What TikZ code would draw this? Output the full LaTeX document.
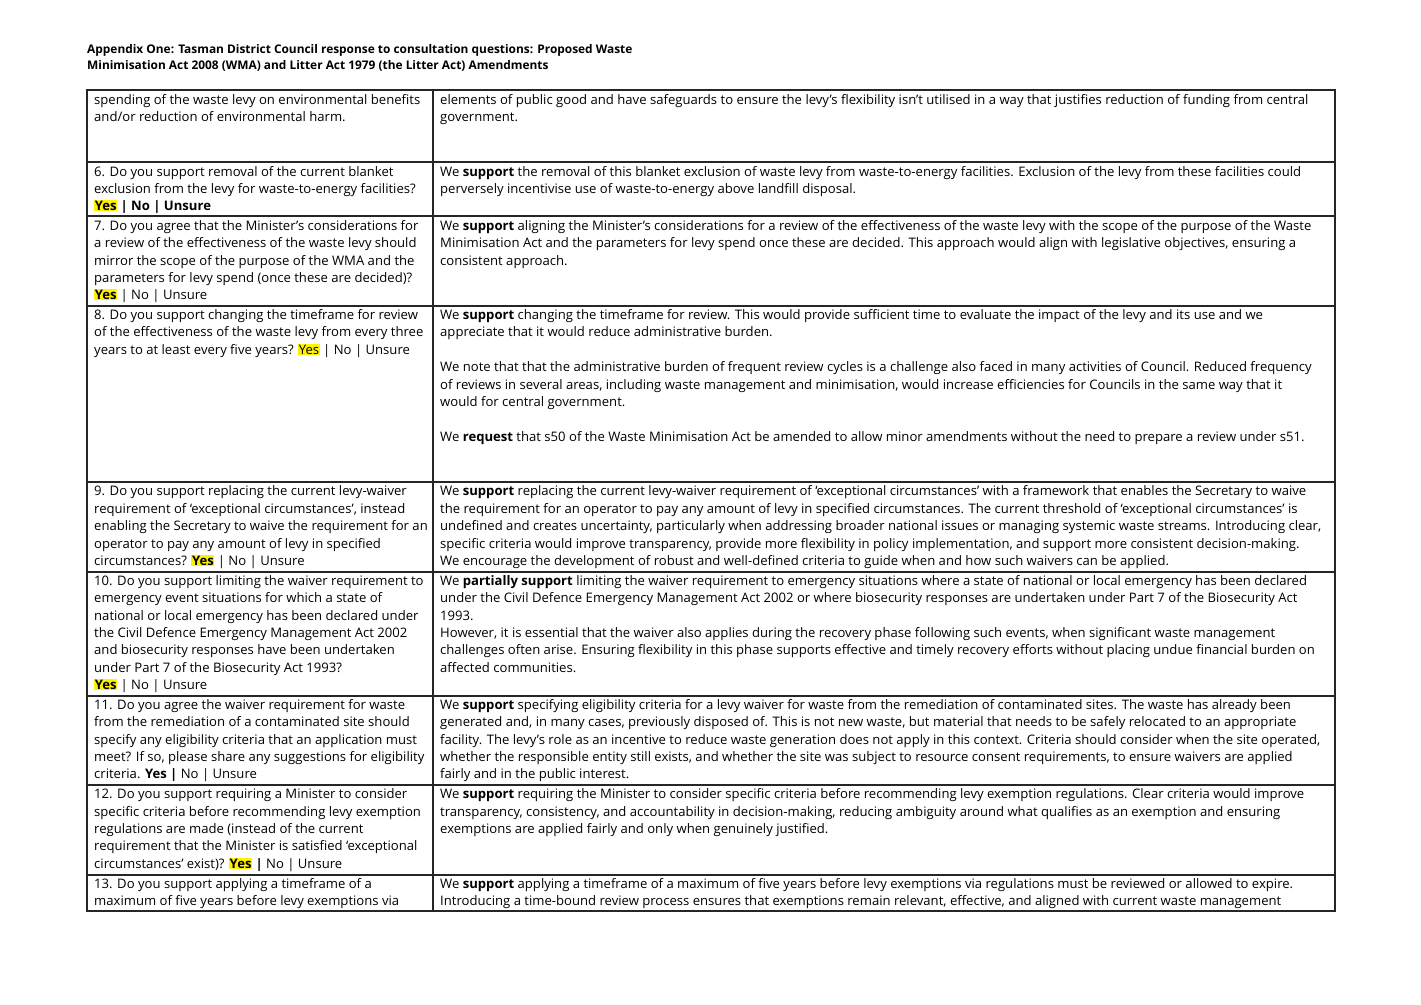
\documentclass[tikz,border=0pt]{standalone}
\usepackage{fontspec}
\setmainfont{Open Sans}
\usepackage{xcolor}
\definecolor{hy}{RGB}{255,242,0}
\newcommand{\hy}[1]{{\setlength{\fboxsep}{0.6pt}\colorbox{hy}{#1}}}
\tikzset{ln/.style={anchor=west,inner sep=0pt,font=\fontsize{13.1}{15}\selectfont},
 hd/.style={anchor=west,inner sep=0pt,font=\fontsize{11.9}{14}\selectfont\bfseries},
 rule/.style={line width=1.6pt,black!85}}
\newcommand{\Lt}[2]{\node[ln] at (94,#1) {\strut #2};}
\newcommand{\Rt}[2]{\node[ln] at (440,#1) {\strut #2};}
\begin{document}
\begin{tikzpicture}[x=1pt,y=-1pt]
\fill[white] (0,0) rectangle (1421,1004);
\useasboundingbox (0,0) rectangle (1421,1004);
\node[hd] (h1) at (87,50) {Appendix One: Tasman District Council response to consultation questions: Proposed Waste};
\node[hd] (h2) at (87,66) {Minimisation Act 2008 (WMA) and Litter Act 1979 (the Litter Act) Amendments};
\draw[rule] (87,90) rectangle (1335,911);
\draw[rule] (433,90) -- (433,911);
\foreach \y in {162,216,306,482,572,696,785,875} \draw[rule] (87,\y) -- (1335,\y);
% row 1
\Lt{101}{spending of the waste levy on environmental benefits}
\Lt{118}{and/or reduction of environmental harm.}
\Rt{101}{elements of public good and have safeguards to ensure the levy’s flexibility isn’t utilised in a way that justifies reduction of funding from central}
\Rt{118}{government.}
% row 6
\Lt{173}{6. Do you support removal of the current blanket}
\Lt{190}{exclusion from the levy for waste-to-energy facilities?}
\Lt{207}{\bfseries\hy{Yes} | No | Unsure}
\Rt{173}{We \textbf{support} the removal of this blanket exclusion of waste levy from waste-to-energy facilities. Exclusion of the levy from these facilities could}
\Rt{190}{perversely incentivise use of waste-to-energy above landfill disposal.}
% row 7
\Lt{227}{7. Do you agree that the Minister’s considerations for}
\Lt{244}{a review of the effectiveness of the waste levy should}
\Lt{262}{mirror the scope of the purpose of the WMA and the}
\Lt{279}{parameters for levy spend (once these are decided)?}
\Lt{296}{\textbf{\hy{Yes}} | No | Unsure}
\Rt{227}{We \textbf{support} aligning the Minister’s considerations for a review of the effectiveness of the waste levy with the scope of the purpose of the Waste}
\Rt{244}{Minimisation Act and the parameters for levy spend once these are decided. This approach would align with legislative objectives, ensuring a}
\Rt{262}{consistent approach.}
% row 8
\Lt{316}{8. Do you support changing the timeframe for review}
\Lt{333}{of the effectiveness of the waste levy from every three}
\Lt{351}{years to at least every five years? \hy{Yes} | No | Unsure}
\Rt{316}{We \textbf{support} changing the timeframe for review. This would provide sufficient time to evaluate the impact of the levy and its use and we}
\Rt{333}{appreciate that it would reduce administrative burden.}
\Rt{368}{We note that that the administrative burden of frequent review cycles is a challenge also faced in many activities of Council. Reduced frequency}
\Rt{386}{of reviews in several areas, including waste management and minimisation, would increase efficiencies for Councils in the same way that it}
\Rt{403}{would for central government.}
\Rt{438}{We \textbf{request} that s50 of the Waste Minimisation Act be amended to allow minor amendments without the need to prepare a review under s51.}
% row 9
\Lt{492}{9. Do you support replacing the current levy-waiver}
\Lt{510}{requirement of ‘exceptional circumstances’, instead}
\Lt{527}{enabling the Secretary to waive the requirement for an}
\Lt{545}{operator to pay any amount of levy in specified}
\Lt{562}{circumstances? \textbf{\hy{Yes}} | No | Unsure}
\Rt{492}{We \textbf{support} replacing the current levy-waiver requirement of ‘exceptional circumstances’ with a framework that enables the Secretary to waive}
\Rt{510}{the requirement for an operator to pay any amount of levy in specified circumstances. The current threshold of ‘exceptional circumstances’ is}
\Rt{527}{undefined and creates uncertainty, particularly when addressing broader national issues or managing systemic waste streams. Introducing clear,}
\Rt{545}{specific criteria would improve transparency, provide more flexibility in policy implementation, and support more consistent decision-making.}
\Rt{562}{We encourage the development of robust and well-defined criteria to guide when and how such waivers can be applied.}
% row 10
\Lt{582}{10. Do you support limiting the waiver requirement to}
\Lt{599}{emergency event situations for which a state of}
\Lt{617}{national or local emergency has been declared under}
\Lt{634}{the Civil Defence Emergency Management Act 2002}
\Lt{651}{and biosecurity responses have been undertaken}
\Lt{669}{under Part 7 of the Biosecurity Act 1993?}
\Lt{686}{\textbf{\hy{Yes}} | No | Unsure}
\Rt{582}{We \textbf{partially support} limiting the waiver requirement to emergency situations where a state of national or local emergency has been declared}
\Rt{599}{under the Civil Defence Emergency Management Act 2002 or where biosecurity responses are undertaken under Part 7 of the Biosecurity Act}
\Rt{617}{1993.}
\Rt{634}{However, it is essential that the waiver also applies during the recovery phase following such events, when significant waste management}
\Rt{651}{challenges often arise. Ensuring flexibility in this phase supports effective and timely recovery efforts without placing undue financial burden on}
\Rt{669}{affected communities.}
% row 11
\Lt{706}{11. Do you agree the waiver requirement for waste}
\Lt{723}{from the remediation of a contaminated site should}
\Lt{741}{specify any eligibility criteria that an application must}
\Lt{758}{meet? If so, please share any suggestions for eligibility}
\Lt{775}{criteria. \textbf{Yes |} No | Unsure}
\Rt{706}{We \textbf{support} specifying eligibility criteria for a levy waiver for waste from the remediation of contaminated sites. The waste has already been}
\Rt{723}{generated and, in many cases, previously disposed of. This is not new waste, but material that needs to be safely relocated to an appropriate}
\Rt{741}{facility. The levy’s role as an incentive to reduce waste generation does not apply in this context. Criteria should consider when the site operated,}
\Rt{758}{whether the responsible entity still exists, and whether the site was subject to resource consent requirements, to ensure waivers are applied}
\Rt{775}{fairly and in the public interest.}
% row 12
\Lt{795}{12. Do you support requiring a Minister to consider}
\Lt{813}{specific criteria before recommending levy exemption}
\Lt{830}{regulations are made (instead of the current}
\Lt{847}{requirement that the Minister is satisfied ‘exceptional}
\Lt{865}{circumstances’ exist)? \textbf{\hy{Yes} |} No | Unsure}
\Rt{795}{We \textbf{support} requiring the Minister to consider specific criteria before recommending levy exemption regulations. Clear criteria would improve}
\Rt{813}{transparency, consistency, and accountability in decision-making, reducing ambiguity around what qualifies as an exemption and ensuring}
\Rt{830}{exemptions are applied fairly and only when genuinely justified.}
% row 13
\Lt{885}{13. Do you support applying a timeframe of a}
\Lt{902}{maximum of five years before levy exemptions via}
\Rt{885}{We \textbf{support} applying a timeframe of a maximum of five years before levy exemptions via regulations must be reviewed or allowed to expire.}
\Rt{902}{Introducing a time-bound review process ensures that exemptions remain relevant, effective, and aligned with current waste management}
\end{tikzpicture}
\end{document}
